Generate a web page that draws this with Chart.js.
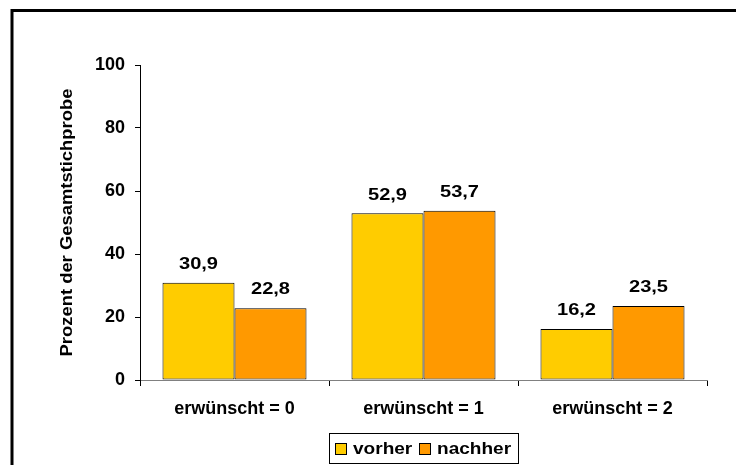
<!DOCTYPE html>
<html><head><meta charset="utf-8">
<script src="https://cdn.jsdelivr.net/npm/chart.js@4"></script>
<style>html,body{margin:0;padding:0;background:#fff}#wrap{width:736px;height:465px;position:relative}</style>
</head><body><div id="wrap"><canvas id="c" width="736" height="465"></canvas></div>
<script>
const categories = ["erwünscht = 0", "erwünscht = 1", "erwünscht = 2"];
const vorher = [30.9, 52.9, 16.2];
const nachher = [22.8, 53.7, 23.5];
const seriesNames = ["vorher", "nachher"];
const seriesColors = ["#FFCC00", "#FF9900"];
const yTicks = [0, 20, 40, 60, 80, 100];
const yTitle = "Prozent der Gesamtstichprobe";

const FONT = "'Liberation Sans', Arial, sans-serif";

function stretchedText(ctx, text, x, y, align, k) {
  ctx.save();
  ctx.translate(x, y);
  ctx.scale(k, 1);
  ctx.textAlign = align;
  ctx.fillText(text, 0, 0);
  ctx.restore();
}

const decor = {
  id: 'decor',
  afterDatasetsDraw(chart) {
    const ctx = chart.ctx;
    ctx.save();
    ctx.font = "bold 17px " + FONT;
    ctx.fillStyle = "#000";
    ctx.textBaseline = "bottom";
    chart.data.datasets.forEach((ds, i) => {
      chart.getDatasetMeta(i).data.forEach((el, j) => {
        const t = ds.data[j].toFixed(1).replace('.', ',');
        stretchedText(ctx, t, el.x, el.y - 10, "center", 1.18);
      });
    });
    ctx.restore();
  },
  afterDraw(chart) {
    const ctx = chart.ctx;
    const ca = chart.chartArea;
    ctx.save();
    ctx.strokeStyle = "#000";
    ctx.lineWidth = 3;
    ctx.strokeRect(12, 10.5, 760, 500);
    ctx.translate(68, (ca.top + ca.bottom) / 2);
    ctx.rotate(-Math.PI / 2);
    ctx.scale(1.15, 1);
    ctx.font = "bold 16px " + FONT;
    ctx.fillStyle = "#000";
    ctx.textAlign = "center";
    ctx.textBaseline = "middle";
    ctx.fillText(yTitle, 0, 0);
    ctx.restore();
    ctx.save();
    ctx.strokeStyle = "#000";
    ctx.lineWidth = 1;
    ctx.strokeRect(329.5, 433.5, 189, 30);
    ctx.font = "bold 17px " + FONT;
    ctx.textBaseline = "middle";
    ctx.fillStyle = "#000";
    const sx = [335, 419];
    seriesNames.forEach((n, i) => {
      ctx.fillStyle = seriesColors[i];
      ctx.fillRect(sx[i] + 0.5, 443.5, 11, 11);
      ctx.strokeRect(sx[i] + 0.5, 443.5, 11, 11);
      ctx.fillStyle = "#000";
      stretchedText(ctx, n, sx[i] + 18, 449.5, "left", 1.12);
    });
    ctx.restore();
  }
};

new Chart(document.getElementById('c'), {
  type: 'bar',
  data: {
    labels: categories,
    datasets: [
      { label: seriesNames[0], data: vorher, backgroundColor: seriesColors[0], borderColor: "#000", borderWidth: 1, borderSkipped: false },
      { label: seriesNames[1], data: nachher, backgroundColor: seriesColors[1], borderColor: "#000", borderWidth: 1, borderSkipped: false }
    ]
  },
  options: {
    responsive: false,
    devicePixelRatio: 1,
    animation: false,
    events: [],
    layout: { padding: { left: 0, top: 65, right: 29, bottom: 0 } },
    datasets: { bar: { categoryPercentage: 0.762, barPercentage: 1 } },
    plugins: { legend: { display: false }, tooltip: { enabled: false } },
    scales: {
      x: {
        afterFit(s) { s.height = 85; },
        grid: { display: true, drawOnChartArea: false, drawTicks: true, tickLength: 6, color: "#000", offset: true },
        border: { display: true, color: "#808080", width: 1 },
        ticks: { font: { family: FONT, size: 18, weight: 'bold' }, color: "#000", padding: 12, maxRotation: 0 }
      },
      y: {
        min: 0, max: 100,
        afterFit(s) { s.width = 140; },
        afterBuildTicks(s) { s.ticks = yTicks.map(v => ({ value: v })); },
        grid: { display: true, drawOnChartArea: false, drawTicks: true, tickLength: 5, color: "#000" },
        border: { display: true, color: "#000", width: 1 },
        ticks: { font: { family: FONT, size: 18, weight: 'bold' }, color: "#000", padding: 10, callback: v => String(v) }
      }
    }
  },
  plugins: [decor]
});
</script>
</body></html>
